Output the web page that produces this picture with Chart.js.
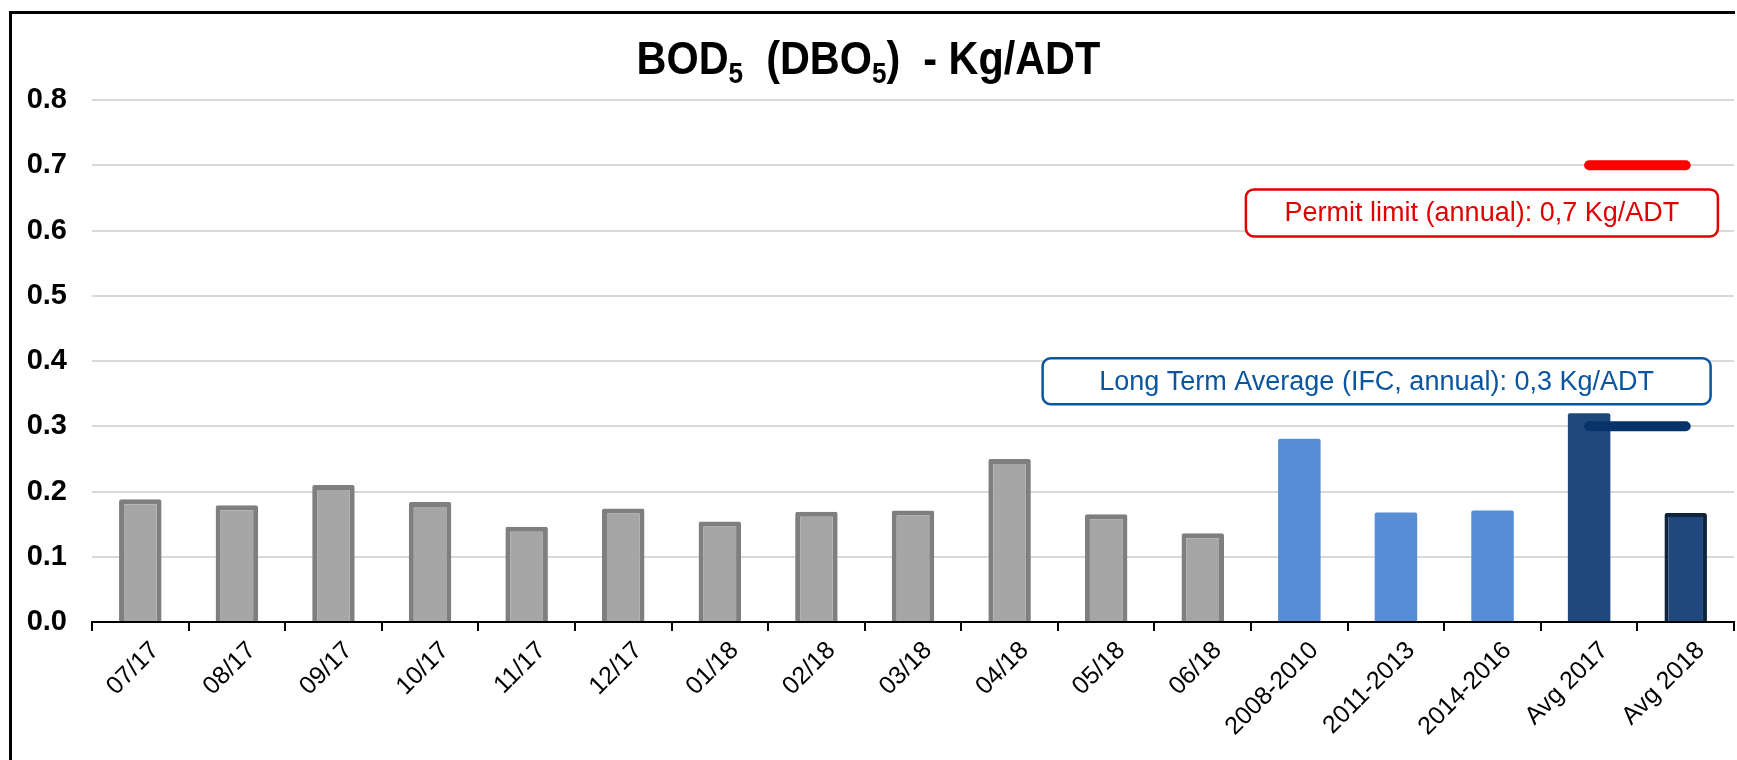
<!DOCTYPE html>
<html lang="en">
<head>
    <meta charset="UTF-8">
    <title>BOD5 (DBO5) - Kg/ADT</title>
    <script src="https://cdn.jsdelivr.net/npm/chart.js"></script>
    <style>
        html, body {
            margin: 0;
            padding: 0;
            background: #ffffff;
            overflow: hidden;
        }

        .wrap {
            position: absolute;
            left: 0;
            top: 0;
            width: 1737px;
            height: 760px;
        }

        .title {
            position: absolute;
            left: 0;
            top: 35px;
            width: 1737px;
            text-align: center;
            font-family: "Liberation Sans", Arial, sans-serif;
            font-weight: bold;
            font-size: 46px;
            line-height: 46px;
            color: #000000;
            transform: scaleX(0.9);
            transform-origin: 868px 0;
        }

        .title sub {
            font-size: 29px;
            vertical-align: -9px;
            line-height: 0;
        }
    </style>
</head>
<body>
    <div class="wrap">
        <canvas id="bodChart"></canvas>
    </div>
    <div class="title">BOD<sub>5</sub>&nbsp; (DBO<sub>5</sub>)&nbsp; - Kg/ADT</div>

    <script>
        // categories along the x axis
        const categories = ['07/17', '08/17', '09/17', '10/17', '11/17', '12/17', '01/18', '02/18', '03/18',
            '04/18', '05/18', '06/18', '2008-2010', '2011-2013', '2014-2016', 'Avg 2017', 'Avg 2018'];

        // BOD5 values, Kg/ADT
        const bodValues = [0.188, 0.179, 0.210, 0.184, 0.146, 0.174, 0.154, 0.169, 0.171,
            0.250, 0.165, 0.136, 0.281, 0.168, 0.171, 0.320, 0.167];

        // which colour group each bar belongs to
        const barGroups = ['month', 'month', 'month', 'month', 'month', 'month', 'month', 'month', 'month',
            'month', 'month', 'month', 'period', 'period', 'period', 'avg2017', 'avg2018'];

        // reference lines (only drawn over the two yearly averages)
        const permitLimit = [null, null, null, null, null, null, null, null, null,
            null, null, null, null, null, null, 0.7, 0.7];
        const longTermAverage = [null, null, null, null, null, null, null, null, null,
            null, null, null, null, null, null, 0.3, 0.3];

        // y axis
        const yMin = 0;
        const yMax = 0.8;
        const yStep = 0.1;

        const groupStyle = {
            month: { fill: '#a6a6a6', border: '#7f7f7f', width: 5 },
            period: { fill: '#558ed5', border: '#558ed5', width: 0 },
            avg2017: { fill: '#1f497d', border: '#1f497d', width: 0 },
            avg2018: { fill: '#1f497d', border: '#10243e', width: 4 }
        };

        // annotation boxes, placed on the chart scales
        const notes = [
            { text: 'Permit limit (annual): 0,7 Kg/ADT', color: '#e00000', index: 13.89, value: 0.627, w: 472, h: 47 },
            { text: 'Long Term Average (IFC, annual): 0,3 Kg/ADT', color: '#0b55a0', index: 12.80, value: 0.369, w: 668, h: 46 }
        ];

        const FONT = '"Liberation Sans", Arial, sans-serif';

        // outer chart frame: only its left and top edges fall inside the picture
        const framePlugin = {
            id: 'frame',
            beforeDraw(chart) {
                const ctx = chart.ctx;
                ctx.save();
                ctx.strokeStyle = '#000000';
                ctx.lineWidth = 3;
                ctx.beginPath();
                ctx.moveTo(10.5, chart.height);
                ctx.lineTo(10.5, 12.5);
                ctx.lineTo(chart.width - 2, 12.5);
                ctx.stroke();
                ctx.restore();
            }
        };

        const notesPlugin = {
            id: 'notes',
            afterDatasetsDraw(chart) {
                const ctx = chart.ctx;
                const xs = chart.scales.x;
                const ys = chart.scales.y;
                notes.forEach(n => {
                    const cx = xs.getPixelForValue(n.index);
                    const cy = ys.getPixelForValue(n.value);
                    ctx.save();
                    ctx.beginPath();
                    ctx.roundRect(cx - n.w / 2, cy - n.h / 2, n.w, n.h, 8);
                    ctx.fillStyle = '#ffffff';
                    ctx.fill();
                    ctx.lineWidth = 2.5;
                    ctx.strokeStyle = n.color;
                    ctx.stroke();
                    ctx.fillStyle = n.color;
                    ctx.font = '27px ' + FONT;
                    ctx.textAlign = 'center';
                    ctx.textBaseline = 'middle';
                    ctx.fillText(n.text, cx, cy + 1);
                    ctx.restore();
                });
            }
        };

        const ctx = document.getElementById('bodChart').getContext('2d');

        new Chart(ctx, {
            type: 'bar',
            data: {
                labels: categories,
                datasets: [
                    {
                        type: 'line',
                        label: 'Permit limit',
                        data: permitLimit,
                        borderColor: '#ff0000',
                        borderWidth: 10,
                        borderCapStyle: 'round',
                        pointRadius: 0,
                        fill: false,
                        order: 0
                    },
                    {
                        type: 'line',
                        label: 'Long Term Average',
                        data: longTermAverage,
                        borderColor: '#06346a',
                        borderWidth: 10,
                        borderCapStyle: 'round',
                        pointRadius: 0,
                        fill: false,
                        order: 0
                    },
                    {
                        label: 'BOD5',
                        data: bodValues,
                        backgroundColor: barGroups.map(g => groupStyle[g].fill),
                        borderColor: barGroups.map(g => groupStyle[g].border),
                        borderWidth: barGroups.map(g => groupStyle[g].width),
                        borderRadius: 2,
                        categoryPercentage: 1,
                        barPercentage: 0.44,
                        order: 1
                    }
                ]
            },
            options: {
                responsive: true,
                maintainAspectRatio: false,
                animation: false,
                layout: {
                    padding: { top: 100, right: 3, bottom: 0, left: 0 }
                },
                plugins: {
                    legend: { display: false },
                    tooltip: { enabled: false },
                    title: { display: false }
                },
                scales: {
                    x: {
                        grid: {
                            display: true,
                            drawOnChartArea: false,
                            drawTicks: true,
                            tickLength: 9,
                            color: '#000000',
                            lineWidth: 2
                        },
                        border: { display: true, color: '#000000', width: 2 },
                        ticks: {
                            minRotation: 45,
                            maxRotation: 45,
                            autoSkip: false,
                            color: '#000000',
                            padding: 5,
                            labelOffset: 15,
                            font: { family: FONT, size: 25 }
                        },
                        afterFit(scale) {
                            scale.height = 138;
                        }
                    },
                    y: {
                        min: yMin,
                        max: yMax,
                        grid: {
                            color: '#d9d9d9',
                            lineWidth: 2,
                            drawTicks: false
                        },
                        border: { display: false },
                        ticks: {
                            stepSize: yStep,
                            padding: 25,
                            color: '#000000',
                            font: { family: FONT, size: 29, weight: 'bold' },
                            callback: v => Number(v).toFixed(1)
                        },
                        afterFit(scale) {
                            scale.width = 92;
                        }
                    }
                }
            },
            plugins: [framePlugin, notesPlugin]
        });
    </script>
</body>
</html>
